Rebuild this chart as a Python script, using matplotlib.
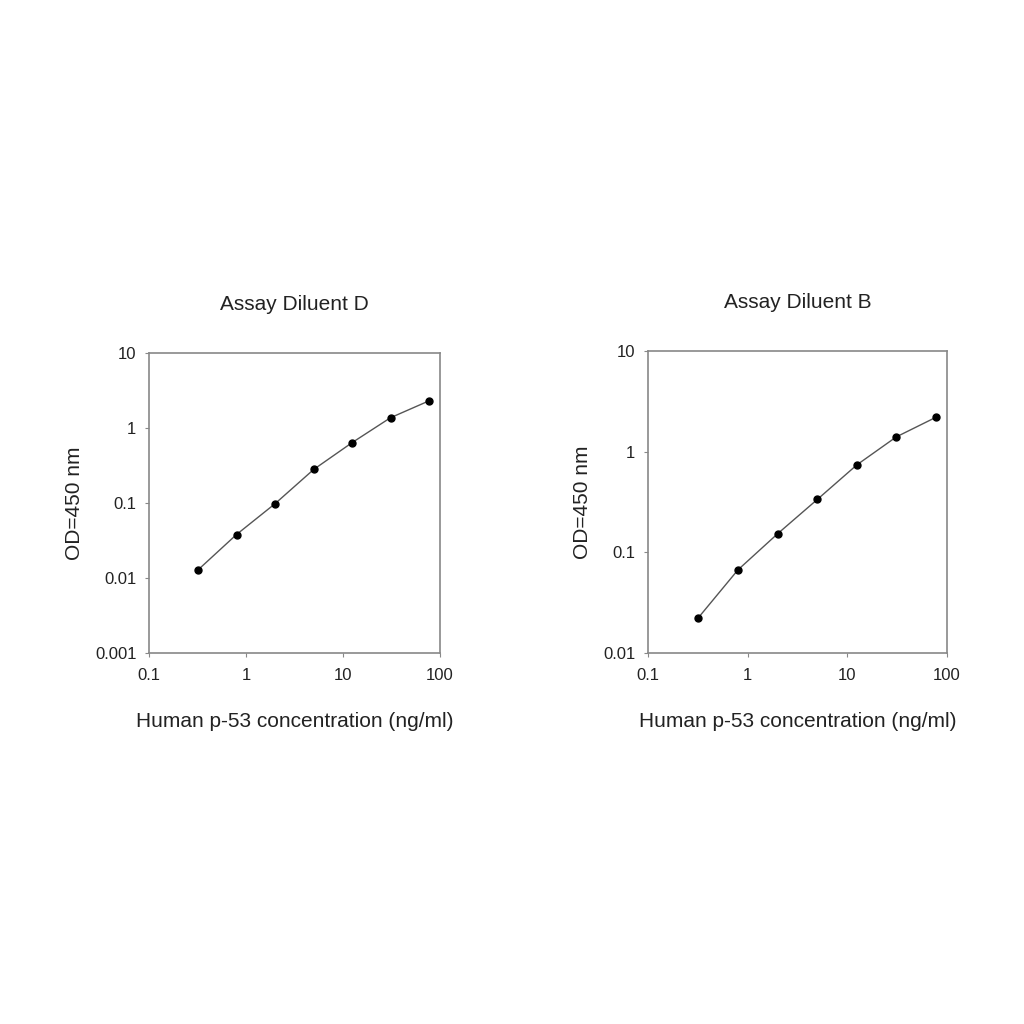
import matplotlib
matplotlib.use("Agg")
import matplotlib.pyplot as plt
from matplotlib.ticker import FixedLocator, FixedFormatter, NullLocator

plt.rcParams['font.family'] = ['Liberation Sans', 'DejaVu Sans']

conc = [0.32, 0.8, 2.0, 5.0, 12.5, 31, 78]
od_d = [0.0128, 0.038, 0.098, 0.28, 0.64, 1.37, 2.31]
od_b = [0.0224, 0.067, 0.153, 0.335, 0.74, 1.40, 2.2]

titles = ["Assay Diluent D", "Assay Diluent B"]
x_ticks = [0.1, 1, 10, 100]
x_labels = ["0.1", "1", "10", "100"]
y_ticks_d = [0.001, 0.01, 0.1, 1, 10]
y_labels_d = ["0.001", "0.01", "0.1", "1", "10"]
y_ticks_b = [0.01, 0.1, 1, 10]
y_labels_b = ["0.01", "0.1", "1", "10"]

fig = plt.figure(figsize=(10.24, 10.24), dpi=100)
ax1 = fig.add_axes([0.1455, 0.3623, 0.284, 0.293])
ax2 = fig.add_axes([0.6328, 0.3623, 0.292, 0.295])

txt = "#222222"
for ax, od, title, yt, yl in [(ax1, od_d, titles[0], y_ticks_d, y_labels_d),
                              (ax2, od_b, titles[1], y_ticks_b, y_labels_b)]:
    ax.plot(conc, od, color="#555555", lw=1.0, marker="o", ms=5,
            mfc="black", mec="black")
    ax.set_xscale("log")
    ax.set_yscale("log")
    ax.set_xlim(0.1, 100)
    ax.set_ylim(yt[0], yt[-1])
    ax.xaxis.set_major_locator(FixedLocator(x_ticks))
    ax.xaxis.set_major_formatter(FixedFormatter(x_labels))
    ax.yaxis.set_major_locator(FixedLocator(yt))
    ax.yaxis.set_major_formatter(FixedFormatter(yl))
    ax.xaxis.set_minor_locator(NullLocator())
    ax.yaxis.set_minor_locator(NullLocator())
    ax.tick_params(length=3, width=0.8, color="#888888", labelsize=12,
                   labelcolor=txt)
    ax.tick_params(axis="x", pad=8)
    ax.tick_params(axis="y", pad=6)
    for s in ax.spines.values():
        s.set_color("#888888")
        s.set_linewidth(1.2)
    ax.set_title(title, fontsize=15, color=txt, pad=31)
    ax.set_xlabel("Human p-53 concentration (ng/ml)", fontsize=15, color=txt, labelpad=21)
    ax.set_ylabel("OD=450 nm", fontsize=15, color=txt, labelpad=8)

fig.savefig("out.png", dpi=100, facecolor="white")
